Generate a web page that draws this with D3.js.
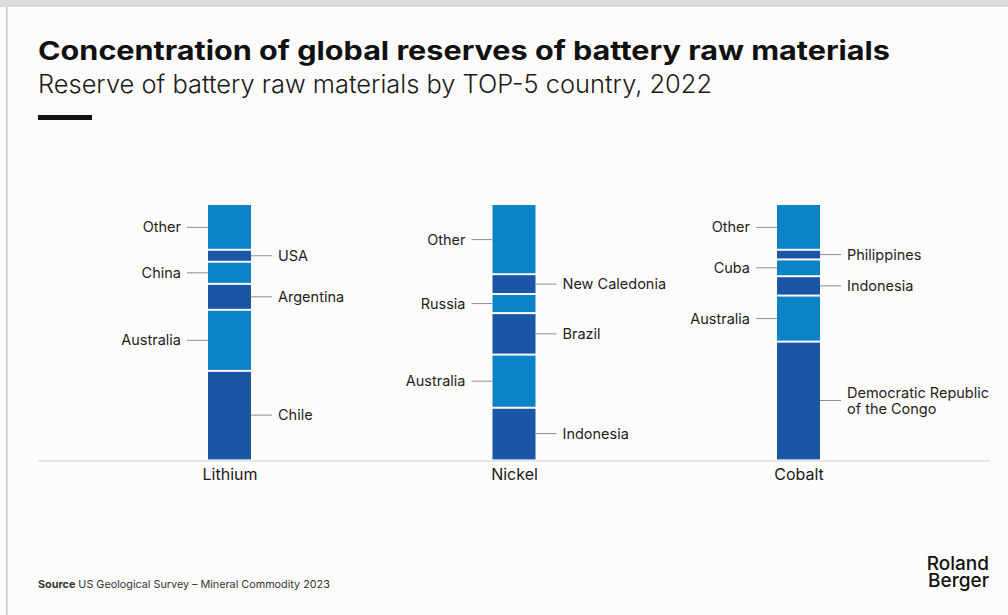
<!DOCTYPE html>
<html><head><meta charset="utf-8">
<script src="https://cdn.jsdelivr.net/npm/d3@7"></script>
<style>
body{margin:0;background:#fdfcfb;}
svg{display:block;font-family:Inter,"Open Sans",sans-serif;}
</style>
</head><body>
<svg id="c" width="1008" height="615"></svg>
<script>
// ---- data ----
const materials = ["Lithium", "Nickel", "Cobalt"];
const lithiumCountries = ["Chile", "Australia", "Argentina", "China", "USA", "Other"];
const lithiumShares    = [34.8, 24.0, 10.2, 8.7, 4.7, 17.6];
const nickelCountries  = ["Indonesia", "Australia", "Brazil", "Russia", "New Caledonia", "Other"];
const nickelShares     = [20.3, 20.9, 16.3, 7.5, 7.8, 27.2];
const cobaltCountries  = ["Democratic Republic of the Congo", "Australia", "Indonesia", "Cuba", "Philippines", "Other"];
const cobaltShares     = [46.3, 18.1, 7.6, 6.6, 3.8, 17.6];
const title = "Concentration of global reserves of battery raw materials";
const subtitle = "Reserve of battery raw materials by TOP-5 country, 2022";
const sourceLabel = "Source";
const sourceText = "US Geological Survey – Mineral Commodity 2023";
const logoLines = ["Roland", "Berger"];
const labelWraps = {"Democratic Republic of the Congo": ["Democratic Republic", "of the Congo"]};

const seriesData = [
  {name: materials[0], countries: lithiumCountries, shares: lithiumShares},
  {name: materials[1], countries: nickelCountries, shares: nickelShares},
  {name: materials[2], countries: cobaltCountries, shares: cobaltShares}
];

// ---- layout ----
const W = 1008, H = 615;
const svg = d3.select("#c");
const DARK = "#1b56a6", LIGHT = "#0b83c7";

// frame
svg.append("rect").attr("x",0).attr("y",0).attr("width",W).attr("height",H).attr("fill","#fdfcfb");
svg.append("rect").attr("x",0).attr("y",0).attr("width",W).attr("height",7).attr("fill","#dcdcdc");
svg.append("rect").attr("x",6).attr("y",7).attr("width",1.5).attr("height",H-7).attr("fill","#c8c8c8");

function fit(sel, target){
  const n = sel.node();
  const w = n.getComputedTextLength();
  if (Math.abs(w-target) > 1) sel.attr("textLength", target).attr("lengthAdjust","spacingAndGlyphs");
}

const t = svg.append("text").attr("x",38).attr("y",59.5).attr("font-size",26).attr("font-weight",700).attr("fill","#111").text(title);
fit(t, 852);
const st = svg.append("text").attr("x",38).attr("y",93.3).attr("font-size",25).attr("font-weight",300).attr("fill","#1a1a1a").text(subtitle);
fit(st, 674);
svg.append("rect").attr("x",38).attr("y",115).attr("width",54).attr("height",5).attr("fill","#111");

// scales
const x = d3.scalePoint().domain(materials).range([229.5, 798.5]);
const y = d3.scaleLinear().domain([0, 100]).range([459.4, 205]);
const barW = 43;

// baseline
svg.append("line").attr("x1",38).attr("x2",990).attr("y1",460.8).attr("y2",460.8)
  .attr("stroke","#d3dbe8").attr("stroke-width",1.2);

// category axis
const axis = d3.axisBottom(x).tickSize(0).tickPadding(0);
const ag = svg.append("g").attr("transform","translate(0,469)").call(axis);
ag.select(".domain").remove();
ag.selectAll("text").attr("font-size",16).attr("font-family","Inter,'Open Sans',sans-serif")
  .attr("fill","#1a1a1a").attr("dy","0.71em");

seriesData.forEach(s => {
  const cx = x(s.name);
  const total = d3.sum(s.shares);
  const yy = y.copy().domain([0,total]);
  let cum = 0;
  const segs = s.shares.map((v,i) => {
    const d = {country: s.countries[i], v, y0: cum, y1: cum + v, i};
    cum += v; return d;
  });
  const last = segs.length - 1;
  const g = svg.append("g");
  g.selectAll("rect.seg").data(segs).join("rect")
    .attr("class","seg")
    .attr("x", cx - barW/2)
    .attr("width", barW)
    .attr("y", d => yy(d.y1) + (d.i === last ? 0 : 1))
    .attr("height", d => (yy(d.y0) - yy(d.y1)) - (d.i === 0 ? 0 : 1) - (d.i === last ? 0 : 1))
    .attr("fill", d => d.i % 2 === 0 ? DARK : LIGHT);

  segs.forEach(d => {
    const my = (yy(d.y0) + yy(d.y1)) / 2;
    const right = d.i % 2 === 0;
    const x0 = right ? cx + barW/2 : cx - barW/2;
    const x1 = right ? x0 + 21 : x0 - 21;
    g.append("line").attr("x1",x0).attr("x2",x1).attr("y1",my).attr("y2",my)
      .attr("stroke","#8f8f8f").attr("stroke-width",1);
    const lines = labelWraps[d.country] || [d.country];
    const tx = right ? x0 + 27 : x0 - 27;
    const txt = g.append("text").attr("x",tx).attr("y",my)
      .attr("font-size",14.5).attr("fill","#1e1e1e")
      .attr("text-anchor", right ? "start" : "end");
    lines.forEach((ln,k) => {
      txt.append("tspan").attr("x",tx)
        .attr("y", my + (k - (lines.length-1)/2) * 16)
        .attr("dy","0.35em").text(ln);
    });
  });
});

// source
const src = svg.append("text").attr("x",38).attr("y",588).attr("font-size",10.8).attr("fill","#333");
src.append("tspan").attr("font-weight",700).text(sourceLabel);
src.append("tspan").attr("dx",3).text(sourceText);

// logo (single text block, two lines)
const logo = svg.append("text").attr("text-anchor","end")
  .attr("font-size",19).attr("font-weight",500).attr("fill","#111");
logoLines.forEach((ln,k) => {
  logo.append("tspan").attr("x",989).attr("y",570 + k*16.8).text(ln);
});
</script>
</body></html>
